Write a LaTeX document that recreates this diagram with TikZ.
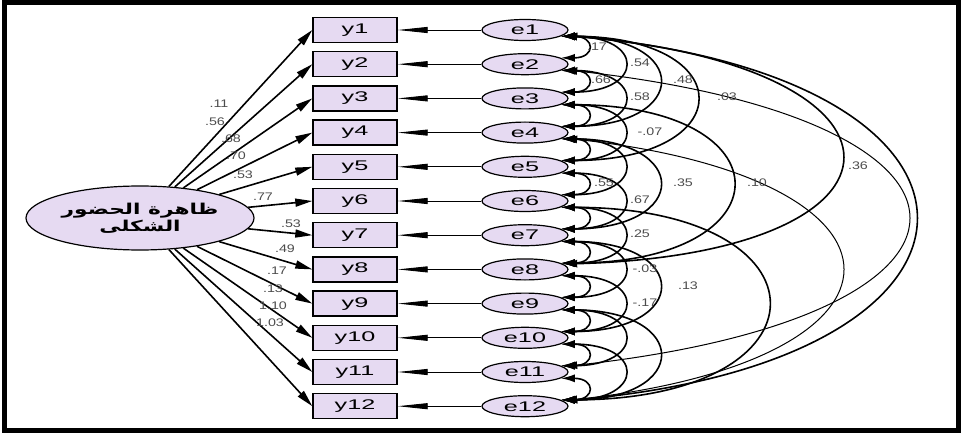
\documentclass[tikz,border=0pt]{standalone}
\usepackage{fontspec}
\setmainfont{Liberation Sans}
\newfontfamily\boxfont[FakeStretch=1.8]{Liberation Sans}
\newfontfamily\lblfont[FakeStretch=1.3]{Liberation Sans}
\newfontfamily\arabicfont[Script=Arabic,FakeStretch=1.45]{DejaVu Sans}
\TeXXeTstate=1
\usetikzlibrary{arrows.meta,shapes.geometric}
\definecolor{lav}{RGB}{230,218,242}
\newcommand\covarc[4]{\draw[#4] (e#1.-10) .. controls +(#3,0) and +(#3,0) .. (e#2.10);}
\newcommand\covlong[6]{\draw[#6] (e#1.-8) .. controls +(#3,#4) and +(#3,#5) .. (e#2.8);}
\begin{document}
\begin{tikzpicture}[x=1pt,y=-1pt,
  obs/.style={draw,line width=1.4pt,fill=lav,minimum width=84pt,minimum height=25pt,inner sep=0pt,font=\boxfont\fontsize{14}{14}\selectfont},
  err/.style={ellipse,draw,line width=1.2pt,fill=lav,minimum width=86pt,minimum height=21pt,inner sep=0pt,font=\boxfont\fontsize{14}{14}\selectfont},
  lat/.style={ellipse,draw,line width=1.2pt,fill=lav,minimum width=228pt,minimum height=64pt,inner sep=0pt},
  lbl/.style={font=\lblfont\fontsize{11}{11}\selectfont,text=black!70,inner sep=0pt},
  load/.style={line width=1.6pt,-{Triangle[length=17pt,width=8pt]}},
  res/.style={line width=0.9pt,-{Triangle[length=30pt,width=6pt]}},
  cov/.style={line width=1.6pt,{Latex[length=14pt,width=8pt]}-{Latex[length=14pt,width=8pt]}},
  covthin/.style={line width=1pt,{Latex[length=14pt,width=8pt]}-{Latex[length=14pt,width=8pt]}}
]
\useasboundingbox (0,0) rectangle (964,433);
\draw[line width=5pt] (4.5,2.5) rectangle (958.5,430.5);

\foreach \i in {1,...,12}{
  \pgfmathsetmacro\yy{30+34.2*(\i-1)}
  \node[obs] (y\i) at (355,\yy) {y\i};
  \node[err] (e\i) at (525,\yy) {e\i};
  \draw[res] (e\i) -- (y\i);
}

\node[lat,align=center,font=\arabicfont\bfseries\fontsize{15}{17}\selectfont] (L) at (140,218)
  {\beginR ظاهرة الحضور\endR\\\beginR الشكلى\endR};

\foreach \i in {1,...,12}{ \draw[load] (L) -- (y\i.west); }

% loading labels
\node[lbl] (l1) at (219,104) {.11};
\node[lbl] (l2) at (215,122) {.56};
\node[lbl] (l3) at (231,139) {.68};
\node[lbl] (l4) at (236,156) {.70};
\node[lbl] (l5) at (243,175) {.53};
\node[lbl] (l6) at (263,197) {.77};
\node[lbl] (l7) at (291,224) {.53};
\node[lbl] (l8) at (285,249) {.49};
\node[lbl] (l9) at (277,271) {.17};
\node[lbl] (l10) at (273,289) {.13};
\node[lbl] (l11) at (273,306) {1.10};
\node[lbl] (l12) at (270,323) {1.03};

% adjacent covariances
\foreach \i [evaluate=\i as \j using int(\i+1)] in {1,...,11}{ \covarc{\i}{\j}{35}{cov} }
% skip-one covariances
\foreach \i [evaluate=\i as \j using int(\i+2)] in {1,...,10}{ \covarc{\i}{\j}{84}{cov} }
% longer covariances
\covarc{1}{4}{130}{cov}
\covarc{4}{7}{130}{cov}
\covarc{7}{10}{130}{cov}
\covarc{9}{12}{130}{cov}
\covarc{1}{5}{180}{cov}
\covarc{3}{8}{228}{cov}
\covarc{6}{12}{275}{cov}
\covlong{1}{8}{370}{30}{-10}{cov}
\covlong{4}{12}{370}{40}{-40}{covthin}
\covlong{2}{11}{458}{50}{-50}{covthin}
\covlong{1}{12}{468}{40}{-40}{cov}

% covariance labels
\node[lbl] (c1) at (597,47) {.17};
\node[lbl] (c2) at (640,63) {.54};
\node[lbl] (c3) at (683,80) {.48};
\node[lbl] (c4) at (727,97) {.03};
\node[lbl] (c5) at (601,80) {.66};
\node[lbl] (c6) at (640,97) {.58};
\node[lbl] (c7) at (650,132) {-.07};
\node[lbl] (c8) at (858,166) {.36};
\node[lbl] (c9) at (757,183) {.10};
\node[lbl] (c10) at (683,183) {.35};
\node[lbl] (c11) at (604,183) {.55};
\node[lbl] (c12) at (640,200) {.67};
\node[lbl] (c13) at (640,234) {.25};
\node[lbl] (c14) at (645,269) {-.03};
\node[lbl] (c15) at (688,286) {.13};
\node[lbl] (c16) at (645,303) {-.17};
\end{tikzpicture}
\end{document}
